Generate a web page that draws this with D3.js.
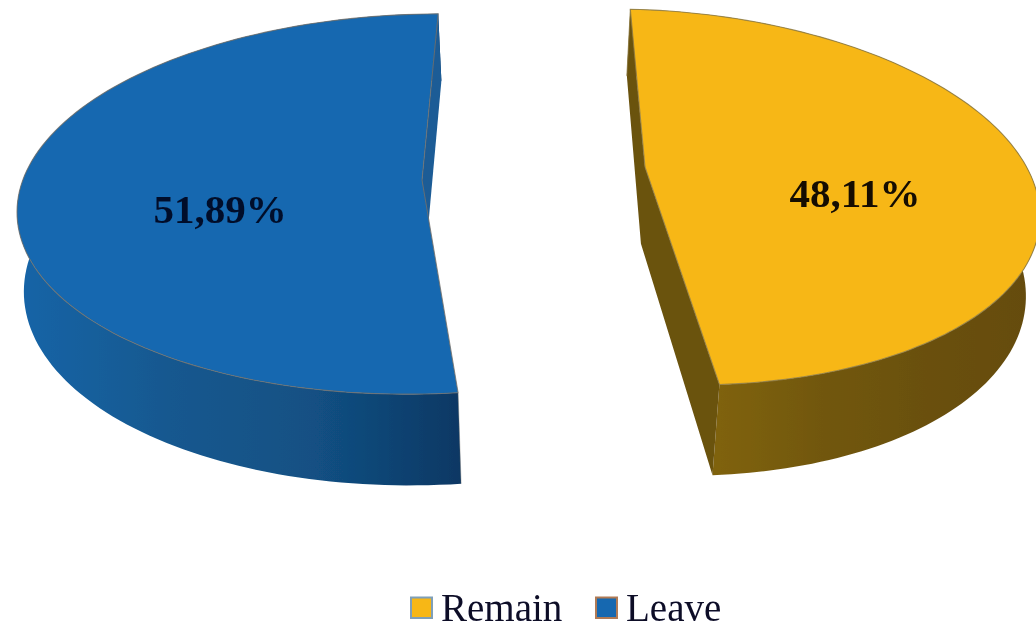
<!DOCTYPE html>
<html>
<head>
<meta charset="utf-8">
<script src="https://cdn.jsdelivr.net/npm/d3@7"></script>
<style>
html,body{margin:0;padding:0;background:#fff;overflow:hidden}
svg{display:block}
</style>
</head>
<body>
<svg id="chart" width="1036" height="625"></svg>
<script>
const categories = ["Remain", "Leave"];
const shareValues = [48.11, 51.89];
const sliceColors = ["#f7b718", "#1268b0"];

const W = 1036, H = 625;
const rad = d => d * Math.PI / 180;

// Projection of each exploded slice (tilted, in perspective)
const geometry = [
  {cx:652, cy:197, rx:388, ry:187, skew:0.05,  rotate:0,   apex:[645,167], label:[855,207],
   wallStops:["#7f6210","#715710","#6a5010","#654c0f"], wallX:[720,1030], inner:"#6b5210", edge:"#8c7a45"},
  {cx:424, cy:204, rx:407, ry:190, skew:-0.02, rotate:5.2, apex:[422,180], label:[220,223],
   wallStops:["#1464a6","#14588f","#125083","#0d3864"], wallX:[25,460], inner:"#1b5b96", edge:"#74706c"}
];

const pie = d3.pie().sort(null).startAngle(rad(-3.2)).endAngle(rad(356.8));
const arcs = pie(shareValues);
const fmt = d3.formatLocale({decimal:",",thousands:".",grouping:[3],currency:["","%"]}).format(".2f");

// depth of the pie wall: foreshortened to the back and converging to the middle
const depthY = d3.scaleLinear().domain([0, 400]).range([66, 91.6]);
const depthX = d3.scaleLinear().domain([0, 460, 722, 1036]).range([7, 3, -7, -14]);
const drop = p => [p[0] + depthX(p[0]), p[1] + depthY(p[1])];

const svg = d3.select("#chart");
const defs = svg.append("defs");
defs.append("filter").attr("id","soft").append("feGaussianBlur").attr("stdDeviation",0.45);

const line = d3.line();
const root = svg.append("g").attr("filter","url(#soft)");

arcs.forEach((a, i) => {
  const g = geometry[i];
  const project = t => {
    const sx = g.rx * Math.sin(t);
    return [g.cx + sx, g.cy - g.ry * Math.cos(t) + g.skew * sx];
  };
  const t0 = a.startAngle + rad(g.rotate), t1 = a.endAngle + rad(g.rotate);
  const rim = d3.range(0, 121).map(k => project(t0 + (t1 - t0) * k / 120));
  const rimLow = rim.map(drop);
  const S = rim[0], E = rim[120], A = g.apex;

  const gid = "wall" + i;
  const lg = defs.append("linearGradient").attr("id", gid)
    .attr("gradientUnits","userSpaceOnUse")
    .attr("x1", g.wallX[0]).attr("x2", g.wallX[1]).attr("y1",0).attr("y2",0);
  g.wallStops.forEach((c, k) => lg.append("stop")
    .attr("offset", k / (g.wallStops.length - 1)).attr("stop-color", c));

  const s = root.append("g").attr("class", "slice-" + categories[i]);

  // outer wall
  s.append("path").attr("d", line(rim.concat(rimLow.slice().reverse())) + "Z")
    .attr("fill", `url(#${gid})`);
  // inner cut walls
  if (i === 0) {
    s.append("path").attr("d", line([S, drop(S), drop(A), drop(E), E, A]) + "Z").attr("fill", g.inner);
  } else {
    s.append("path").attr("d", line([E, drop(E), drop(A), A]) + "Z").attr("fill", g.inner);
  }
  // corner edge
  s.append("path").attr("d", line([S, drop(S)])).attr("stroke", g.edge).attr("stroke-width",1).attr("fill","none").attr("opacity", i===0?0.8:0.4);
  // top surface
  s.append("path").attr("d", line(rim.concat([A])) + "Z")
    .attr("fill", sliceColors[i]).attr("stroke", g.edge).attr("stroke-width",1.1).attr("stroke-opacity",0.8);

  root.append("text")
    .attr("x", g.label[0]).attr("y", g.label[1])
    .attr("text-anchor","middle")
    .attr("font-family","'Liberation Serif',serif")
    .attr("font-weight","bold").attr("font-size",41)
    .attr("fill", i === 0 ? "#140d06" : "#050f2a")
    .text(fmt(a.data) + "%");
});

// legend
const legendX = d3.scaleOrdinal().domain(categories).range([410, 595]);
const legendStroke = ["#7f9fb8", "#b07a55"];
const legend = root.append("g");
categories.forEach((c, i) => {
  legend.append("rect").attr("x", legendX(c)+1).attr("y", 597.5).attr("width",21).attr("height",20.5)
    .attr("fill", sliceColors[i]).attr("stroke", legendStroke[i]).attr("stroke-width",2);
  legend.append("text").attr("x", legendX(c)+31).attr("y", 621)
    .attr("font-family","'Liberation Serif',serif").attr("font-size",39)
    .attr("fill","#0a0a28").text(c);
});
</script>
</body>
</html>
